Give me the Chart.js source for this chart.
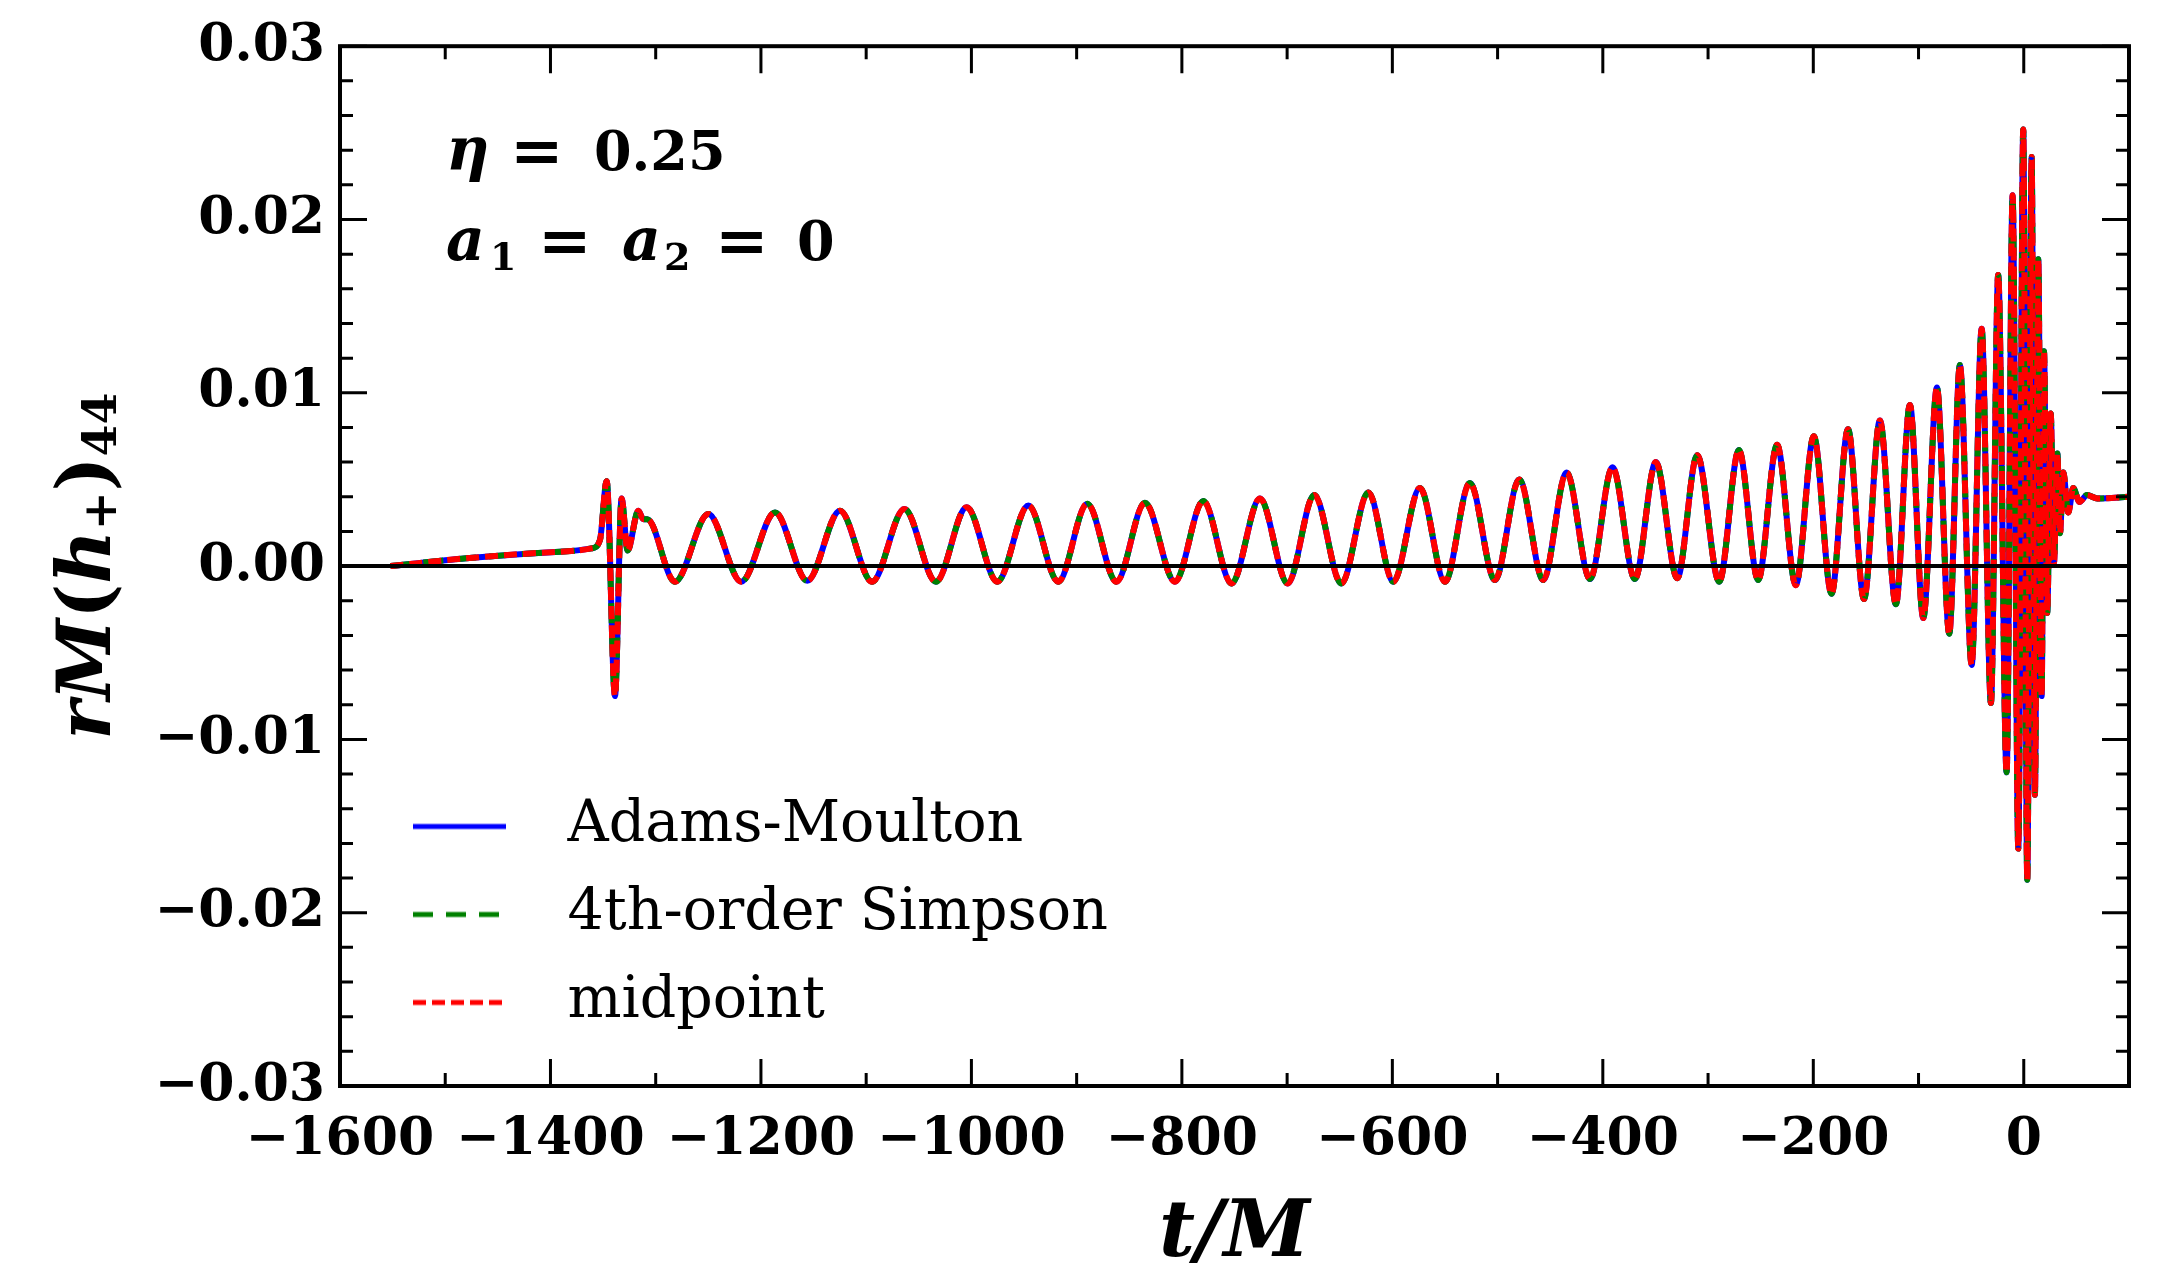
<!DOCTYPE html>
<html><head><meta charset="utf-8">
<script src="https://cdn.jsdelivr.net/npm/chart.js@4.4.1/dist/chart.umd.min.js"></script>
<style>html,body{margin:0;padding:0;background:#fff;} canvas{display:block;}</style>
</head><body>
<canvas id="c" width="2168" height="1269"></canvas>
<script>
// ---- data (t/M, rM(h+)44) ----
const tValues = [-1552, -1480, -1391, -1361, -1353, -1346.6, -1338.7, -1332.4, -1326.7, -1316.5,
  -1311.7, -1308, -1281.7, -1250, -1218.7, -1186.6, -1156, -1124.9, -1094.4, -1063.7,
  -1033.7, -1004.5, -975.4, -945.9, -917.5, -889.9, -862.2, -835.1, -806.6, -779.7,
  -752.8, -725.8, -699.5, -674.2, -648.5, -622.8, -599.1, -573.8, -550, -526.3,
  -502.5, -479.4, -456.6, -434.4, -412.2, -390.8, -369.5, -349.6, -329.3, -310.3,
  -289.4, -270.7, -252.4, -234.4, -216.6, -199.5, -182.7, -167, -151.8, -136.7,
  -121.5, -108.2, -95.5, -82.5, -70.8, -60.7, -49.5, -40, -31.2, -24.3,
  -16.3, -10.6, -5.2, -0.5, 3.3, 7.5, 10.6, 13.8, 17, 19.2,
  22.3, 25.6, 28.7, 31.9, 34.4, 37.5, 42.3, 47, 53, 60,
  70, 100];
const hValues = [0.0000, 0.00045, 0.00083, 0.00102, 0.0015, 0.0049, -0.0075, 0.0039, 0.0009, 0.0032,
  0.0027, 0.0027, -0.0009, 0.0030, -0.0009, 0.0031, -0.00085, 0.0032, -0.0009, 0.0033,
  -0.0009, 0.0034, -0.0009, 0.0035, -0.0009, 0.0036, -0.0009, 0.00365, -0.0009, 0.00375,
  -0.0010, 0.0039, -0.0010, 0.0041, -0.0010, 0.00425, -0.0009, 0.0045, -0.0009, 0.0048,
  -0.0008, 0.0050, -0.0008, 0.0054, -0.00075, 0.0057, -0.00075, 0.0060, -0.0007, 0.0064,
  -0.0009, 0.0067, -0.0008, 0.0070, -0.0011, 0.0075, -0.0016, 0.0079, -0.0019, 0.0084,
  -0.0022, 0.0093, -0.0030, 0.0103, -0.0039, 0.0116, -0.0057, 0.0137, -0.0079, 0.0168,
  -0.0119, 0.0214, -0.0163, 0.0252, -0.0181, 0.0236, -0.0132, 0.0177, -0.0075, 0.0124,
  -0.0027, 0.0088, 0.0002, 0.0065, 0.0019, 0.0054, 0.0031, 0.0045, 0.0037, 0.0041,
  0.0039, 0.0040];

const seriesNames  = ['Adams-Moulton', '4th-order Simpson', 'midpoint'];
const seriesColors = ['#0000ff', '#008000', '#ff0000'];
const seriesDashes = [[], [20, 13], [13, 6]];

const xTickValues = [-1600, -1400, -1200, -1000, -800, -600, -400, -200, 0];
const yTickValues = [-0.03, -0.02, -0.01, 0.00, 0.01, 0.02, 0.03];

const points = tValues.map((t, i) => ({x: t, y: hValues[i]}));

// legend line samples (offscreen canvases used as point styles)
function legendIcon(color, dash) {
  const c = document.createElement('canvas');
  c.width = 168; c.height = 12;
  const g = c.getContext('2d');
  g.strokeStyle = color; g.lineWidth = 5; g.setLineDash(dash);
  g.beginPath(); g.moveTo(42, 6); g.lineTo(135, 6); g.stroke();
  return c;
}
const legendIcons = seriesNames.map((n, i) => legendIcon(seriesColors[i], seriesDashes[i]));

const MINUS = '\u2212';
const tickFont = {family: 'DejaVu Serif', weight: 'bold', size: 52};

const decor = {
  id: 'decor',
  afterUpdate(chart) {
    const l = chart.legend;
    if (l) {
      const h = l.height;
      l.bottom = chart.chartArea.bottom - 24;
      l.top = l.bottom - h;
    }
  },
  afterDatasetsDraw(chart) {
    const {ctx, chartArea: {left, right, top, bottom}, scales: {x, y}} = chart;
    ctx.save();
    ctx.strokeStyle = '#000';
    ctx.lineCap = 'butt';
    // zero line
    ctx.lineWidth = 4;
    const y0 = y.getPixelForValue(0);
    ctx.beginPath(); ctx.moveTo(left, y0); ctx.lineTo(right, y0); ctx.stroke();
    // inward ticks on all four sides
    ctx.lineWidth = 3;
    for (let k = -16; k <= 1; k++) {
      const px = x.getPixelForValue(k * 100);
      const len = (k % 2 === 0) ? 27 : 13;
      ctx.beginPath();
      ctx.moveTo(px, bottom); ctx.lineTo(px, bottom - len);
      ctx.moveTo(px, top); ctx.lineTo(px, top + len);
      ctx.stroke();
    }
    for (let k = -15; k <= 15; k++) {
      const py = y.getPixelForValue(k * 0.002);
      const len = (k % 5 === 0) ? 27 : 13;
      ctx.beginPath();
      ctx.moveTo(left, py); ctx.lineTo(left + len, py);
      ctx.moveTo(right, py); ctx.lineTo(right - len, py);
      ctx.stroke();
    }
    // frame
    ctx.lineWidth = 4;
    ctx.strokeRect(left, top, right - left, bottom - top);
    ctx.restore();
  },
  afterDraw(chart) {
    const {ctx} = chart;
    ctx.save();
    ctx.fillStyle = '#000';
    ctx.textBaseline = 'alphabetic';
    ctx.textAlign = 'left';
    const BI = s => 'italic bold ' + s + 'px "DejaVu Serif"';
    const B = s => 'bold ' + s + 'px "DejaVu Serif"';
    // annotation
    const put = (t, f, xx, yy) => { ctx.font = f; ctx.fillText(t, xx, yy); };
    put('\u03B7', BI(60), 446, 170);
    put('=', B(64), 510, 172);
    put('0.25', B(54), 594, 170);
    put('a', BI(60), 446, 260);
    put('1', B(38), 490, 270);
    put('=', B(64), 538, 262);
    put('a', BI(60), 622, 260);
    put('2', B(38), 664, 270);
    put('=', B(64), 715, 262);
    put('0', B(54), 797, 260);
    // y-axis title
    const parts = [
      {t: 'r', f: BI(74), dy: 0},
      {t: 'M', f: BI(74), dy: 0},
      {t: '(', f: B(74), dy: 0},
      {t: 'h', f: BI(74), dy: 0},
      {t: '+', f: B(46), dy: 6},
      {t: ')', f: B(74), dy: 0},
      {t: '44', f: B(46), dy: 6}
    ];
    let total = 0;
    parts.forEach(p => { ctx.font = p.f; p.w = ctx.measureText(p.t).width; total += p.w; });
    ctx.translate(110, (chart.chartArea.top + chart.chartArea.bottom) / 2);
    ctx.rotate(-Math.PI / 2);
    let cx = -total / 2;
    parts.forEach(p => { ctx.font = p.f; ctx.fillText(p.t, cx, p.dy); cx += p.w; });
    ctx.restore();
  }
};

new Chart(document.getElementById('c'), {
  type: 'line',
  data: {
    datasets: seriesNames.map((name, i) => ({
      label: name,
      data: points,
      borderColor: seriesColors[i],
      backgroundColor: seriesColors[i],
      borderDash: seriesDashes[i],
      borderWidth: 6,
      pointRadius: 0,
      fill: false,
      cubicInterpolationMode: 'monotone',
      order: 2 - i
    }))
  },
  options: {
    responsive: false,
    animation: false,
    devicePixelRatio: 1,
    events: [],
    layout: {padding: {top: 43, right: 39, left: 0, bottom: 0}},
    plugins: {
      tooltip: {enabled: false},
      legend: {
        position: 'chartArea',
        align: 'end',
        labels: {
          usePointStyle: true,
          pointStyleWidth: 168,
          boxHeight: 58,
          padding: 31,
          color: '#000',
          font: {family: 'DejaVu Serif', size: 57},
          sort: (a, b) => a.datasetIndex - b.datasetIndex,
          generateLabels: chart => {
            const items = Chart.defaults.plugins.legend.labels.generateLabels(chart);
            items.forEach(it => { it.pointStyle = legendIcons[it.datasetIndex]; });
            return items;
          }
        }
      }
    },
    scales: {
      x: {
        type: 'linear', min: -1600, max: 100,
        afterBuildTicks: s => { s.ticks = xTickValues.map(v => ({value: v})); },
        afterFit: s => { s.height = 183; },
        ticks: {
          font: tickFont, color: '#000', padding: 23, maxRotation: 0, autoSkip: false,
          callback: v => (v < 0 ? MINUS + Math.abs(v) : String(v))
        },
        grid: {display: false, drawTicks: false},
        border: {display: false},
        title: {
          display: true, text: 't/M', color: '#000',
          font: {family: 'DejaVu Serif', style: 'italic', weight: 'bold', size: 78},
          padding: {top: 0, bottom: -14}
        }
      },
      y: {
        type: 'linear', min: -0.03, max: 0.03,
        afterBuildTicks: s => { s.ticks = yTickValues.map(v => ({value: v})); },
        afterFit: s => { s.width = 340; },
        ticks: {
          font: tickFont, color: '#000', padding: 15,
          callback: v => (Math.abs(v) < 1e-9 ? '0.00' : (v < 0 ? MINUS : '') + Math.abs(v).toFixed(2))
        },
        grid: {display: false, drawTicks: false},
        border: {display: false}
      }
    }
  },
  plugins: [decor]
});
</script>
</body></html>
